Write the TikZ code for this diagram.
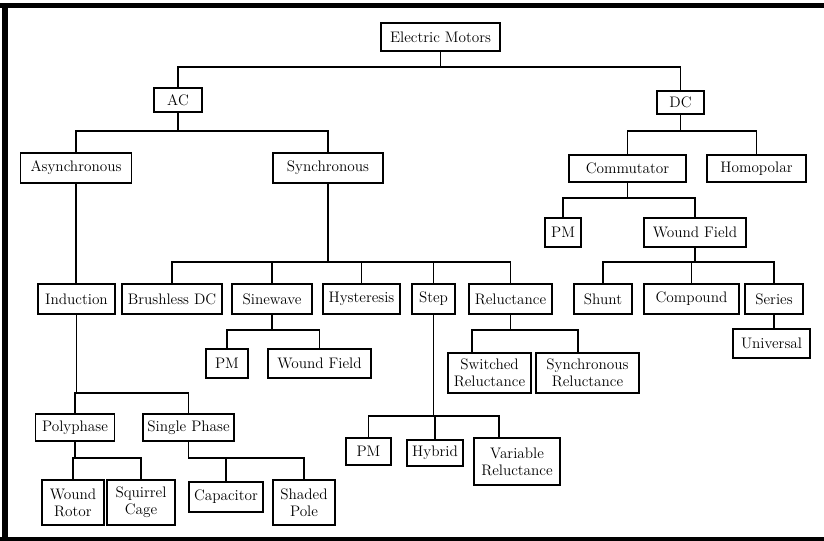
\documentclass[tikz,border=0pt]{standalone}
\usepackage{tikz}
\tikzset{
  box/.style = {draw, rectangle, line width=1.7pt, inner sep=1pt, align=center,
    font=\fontsize{13}{14.5}\selectfont, minimum height=28*0.03cm},
  bw/.style = {minimum width=#1*0.03cm},
  bh/.style = {minimum height=#1*0.03cm},
  link/.style = {line width=1.6pt}
}

\begin{document}
\begin{tikzpicture}[
  x=0.03cm, y=-0.03cm,
  every node/.style = {box},
]
\useasboundingbox (0,0) rectangle (824,541);
% frame
\fill (0,3) rectangle (824,8);
\fill (2,3) rectangle (8,541);
\fill (0,537) rectangle (824,541);

% levels of the buses
\coordinate (b1) at (0,67);
\coordinate (b2) at (0,131);
\coordinate (b3) at (0,198);
\coordinate (b4) at (0,262);
\coordinate (b5) at (0,330);
\coordinate (b6) at (0,393);
\coordinate (b7) at (0,416);
\coordinate (b8) at (0,458);

\node[bw=119] (motors) at (440.5,37) {Electric Motors};
\node[bw=48,bh=24] (ac) at (178,100) {AC};
\node[bw=47,bh=23] (dc) at (680.5,102.5) {DC};
\node[bw=111,bh=30] (async) at (76,168) {Asynchronous};
\node[bw=110,bh=30] (sync) at (328,168) {Synchronous};
\node[bw=117,bh=27] (comm) at (627.5,168.5) {Commutator};
\node[bw=99,bh=27] (homo) at (756.5,168.5) {Homopolar};
\node[bw=36,bh=29] (dcpm) at (563,232.5) {PM};
\node[bw=102,bh=29] (dcwf) at (695,232.5) {Wound Field};

\node[bw=77,bh=30] (induct) at (76.5,299) {Induction};
\node[bw=100,bh=30] (bldc) at (172,299) {Brushless DC};
\node[bw=80,bh=30] (sine) at (272,299) {Sinewave};
\node[bw=77,bh=30] (hyst) at (361.5,299) {Hysteresis};
\node[bw=43,bh=30] (stepper) at (433.5,299) {Step};
\node[bw=83,bh=30] (reluct) at (510.5,299) {Reluctance};
\node[bw=58,bh=30] (shunt) at (603,299) {Shunt};
\node[bw=95,bh=30] (compound) at (691.5,299) {Compound};
\node[bw=58,bh=30] (series) at (774,299) {Series};
\node[bw=77,bh=29] (univ) at (771.5,343.5) {Universal};

\node[bw=42,bh=29] (sinepm) at (227,363.5) {PM};
\node[bw=103,bh=29] (sinewf) at (319.5,363.5) {Wound Field};
\node[bw=83,bh=40] (swrel) at (489.5,373) {Switched\\Reluctance};
\node[bw=103,bh=40] (syrel) at (587.5,373) {Synchronous\\Reluctance};

\node[bw=79,bh=27] (poly) at (75,427.5) {Polyphase};
\node[bw=91,bh=27] (single) at (188.5,427.5) {Single Phase};
\node[bw=45,bh=27] (steppm) at (368.5,451.5) {PM};
\node[bw=56,bh=26] (hybrid) at (435,452.5) {Hybrid};
\node[bw=86,bh=47] (varrel) at (517,461.5) {Variable\\Reluctance};

\node[bw=62,bh=45] (wrotor) at (73,502.5) {Wound\\Rotor};
\node[bw=68,bh=45] (squirrel) at (141,502.5) {Squirrel\\Cage};
\node[bw=74,bh=30] (cap) at (226,497) {Capacitor};
\node[bw=62,bh=45] (shaded) at (304,502.5) {Shaded\\Pole};

% connectors
\draw[link] (motors.south) -- (motors.south |- b1);
\draw[link] (ac.north) |- (dc.north |- b1) -- (dc.north);

\draw[link] (ac.south) -- (ac.south |- b2);
\draw[link] (async.north) |- (sync.north |- b2) -- (sync.north);
\draw[link] (dc.south) -- (dc.south |- b2);
\draw[link] (comm.north) |- (homo.north |- b2) -- (homo.north);

\draw[link] (comm.south) -- (comm.south |- b3);
\draw[link] (dcpm.north) |- (dcwf.north |- b3) -- (dcwf.north);

\draw[link] (async.south) -- (async.south |- induct.north);
\draw[link] (sync.south) -- (sync.south |- b4);
\draw[link] (bldc.north) |- (reluct.north |- b4) -- (reluct.north);
\foreach \c in {sine,hyst,stepper}
  \draw[link] (\c.north) -- (\c.north |- b4);
\draw[link] (dcwf.south) -- (dcwf.south |- b4);
\draw[link] (shunt.north) |- (series.north |- b4) -- (series.north);
\draw[link] (compound.north) -- (compound.north |- b4);
\draw[link] (series.south) -- (series.south |- univ.north);

\draw[link] (sine.south) -- (sine.south |- b5);
\draw[link] (sinepm.north) |- (sinewf.north |- b5) -- (sinewf.north);
\draw[link] (reluct.south) -- (reluct.south |- b5);
\draw[link] ([xshift=-0.525cm]swrel.north) |- ([xshift=-0.285cm]syrel.north |- b5)
  -- ([xshift=-0.285cm]syrel.north);

\draw[link] (induct.south) -- (induct.south |- b6);
\draw[link] (poly.north) |- (single.north |- b6) -- (single.north);

\draw[link] (stepper.south) -- (stepper.south |- b7);
\draw[link] (steppm.north) |- ([xshift=-0.54cm]varrel.north |- b7)
  -- ([xshift=-0.54cm]varrel.north);
\draw[link] (hybrid.north) -- (hybrid.north |- b7);

\draw[link] (poly.south) -- (poly.south |- b8);
\draw[link] (wrotor.north) |- (squirrel.north |- b8) -- (squirrel.north);
\draw[link] (single.south) |- (shaded.north |- b8) -- (shaded.north);
\draw[link] (cap.north) -- (cap.north |- b8);
\end{tikzpicture}
\end{document}
